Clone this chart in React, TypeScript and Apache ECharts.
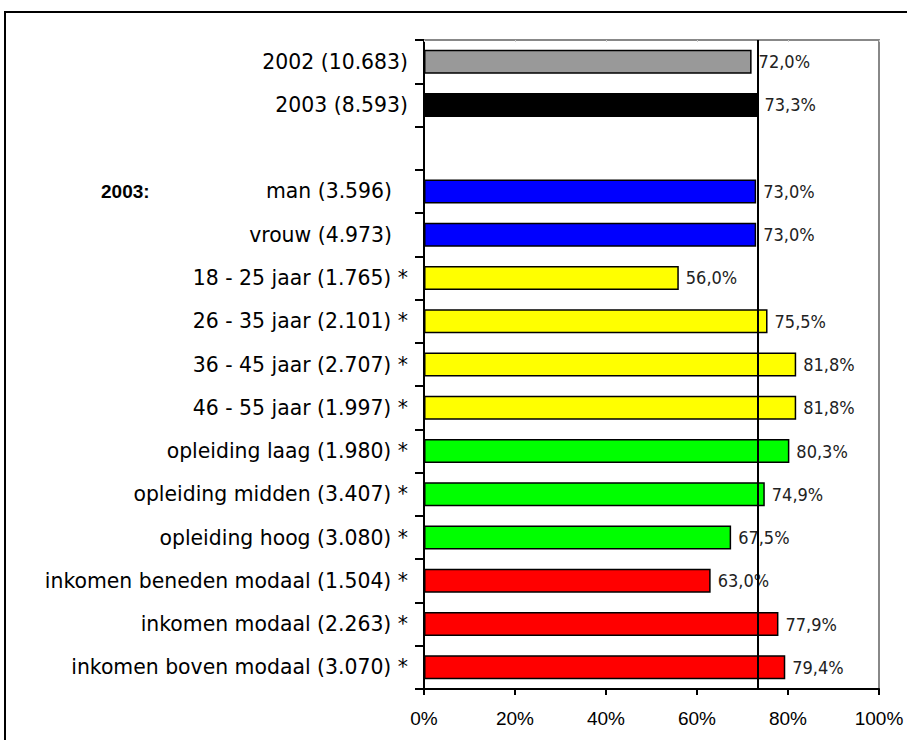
import React, { useEffect, useRef } from "react";
import * as echarts from "echarts";

const categories = [
  "2002 (10.683)",
  "2003 (8.593)",
  "",
  "man (3.596)",
  "vrouw (4.973)",
  "18 - 25 jaar (1.765) *",
  "26 - 35 jaar (2.101) *",
  "36 - 45 jaar (2.707) *",
  "46 - 55 jaar (1.997) *",
  "opleiding laag (1.980) *",
  "opleiding midden (3.407) *",
  "opleiding hoog (3.080) *",
  "inkomen beneden modaal (1.504) *",
  "inkomen modaal (2.263) *",
  "inkomen boven modaal (3.070) *",
];
const values: (number | null)[] = [72.0, 73.3, null, 73.0, 73.0, 56.0, 75.5, 81.8, 81.8, 80.3, 74.9, 67.5, 63.0, 77.9, 79.4];
const barColors = [
  "#999999", "#000000", "#ffffff",
  "#0000ff", "#0000ff",
  "#ffff00", "#ffff00", "#ffff00", "#ffff00",
  "#00ff00", "#00ff00", "#00ff00",
  "#ff0000", "#ff0000", "#ff0000",
];
const referenceValue = 73.3;
const groupTitle = "2003:";
const paddedLabels = ["man (3.596)", "vrouw (4.973)"];

export default function App() {
  const ref = useRef<HTMLDivElement>(null);
  useEffect(() => {
    if (!ref.current) return;
    const chart = echarts.init(ref.current, null, { renderer: "svg" });
    const catFont = "DejaVu Sans, Liberation Sans, sans-serif";
    const axisFont = "Liberation Sans, Arial, sans-serif";
    chart.setOption({
      animation: false,
      backgroundColor: "#ffffff",
      grid: { left: 424, right: 28, top: 40, bottom: 51, containLabel: false },
      xAxis: [
        {
          type: "value",
          min: 0,
          max: 100,
          interval: 20,
          position: "bottom",
          axisLine: { show: true, onZero: false, lineStyle: { color: "#000", width: 2 } },
          axisTick: { show: true, length: 6, lineStyle: { color: "#000", width: 2 } },
          axisLabel: {
            formatter: (v: number) => v + "%",
            fontFamily: axisFont,
            fontSize: 19,
            color: "#000",
            margin: 20,
          },
          splitLine: { show: false },
        },
        {
          type: "value",
          min: 0,
          max: 100,
          interval: 20,
          position: "top",
          axisLine: { show: true, onZero: false, lineStyle: { color: "#888", width: 2 } },
          axisTick: { show: true, inside: true, length: 2, lineStyle: { color: "#ccc" } },
          axisLabel: { show: false },
          splitLine: { show: false },
        },
      ],
      yAxis: [
        {
          type: "category",
          data: categories,
          inverse: true,
          axisLine: { show: true, onZero: false, lineStyle: { color: "#000", width: 2 } },
          axisTick: { show: true, length: 9, lineStyle: { color: "#000", width: 2 } },
          axisLabel: {
            fontFamily: catFont,
            fontSize: 20.4,
            color: "#000",
            margin: 16,
            formatter: (v: string) => (paddedLabels.includes(v) ? `{p|${v}}` : v),
            rich: {
              p: { fontFamily: catFont, fontSize: 20.4, color: "#000", padding: [0, 16, 0, 0] },
            },
          },
        },
        {
          type: "category",
          data: categories,
          inverse: true,
          position: "right",
          axisLine: { show: true, onZero: false, lineStyle: { color: "#888", width: 2 } },
          axisTick: { show: false },
          axisLabel: { show: false },
        },
      ],
      series: [
        {
          type: "bar",
          xAxisIndex: 0,
          yAxisIndex: 0,
          barWidth: 24,
          data: values.map((v, i) => ({
            value: v,
            itemStyle: { color: barColors[i], borderColor: "#000", borderWidth: 1.5 },
          })),
          label: {
            show: true,
            position: "right",
            distance: 7,
            fontFamily: "DejaVu Sans Condensed, Liberation Sans Narrow, sans-serif",
            fontSize: 18,
            color: "#222",
            formatter: (p: any) => (p.value == null ? "" : p.value.toFixed(1).replace(".", ",") + "%"),
          },
          markLine: {
            silent: true,
            symbol: "none",
            label: { show: false },
            lineStyle: { color: "#000", width: 2, type: "solid" },
            data: [{ xAxis: referenceValue }],
            z: 10,
          },
        },
      ],
      graphic: [
        {
          type: "rect",
          shape: { x: 5, y: 12, width: 1000, height: 1000 },
          style: { fill: "none", stroke: "#000", lineWidth: 2 },
          silent: true,
        },
        {
          type: "text",
          x: 101,
          y: 191,
          style: {
            text: groupTitle,
            fontFamily: axisFont,
            fontWeight: "bold",
            fontSize: 19,
            fill: "#000",
            verticalAlign: "middle",
          },
        },
      ],
    });
    return () => chart.dispose();
  }, []);
  return (
    <div
      ref={ref}
      style={{ position: "fixed", left: 0, top: 0, width: 907, height: 740, background: "#fff" }}
    />
  );
}
